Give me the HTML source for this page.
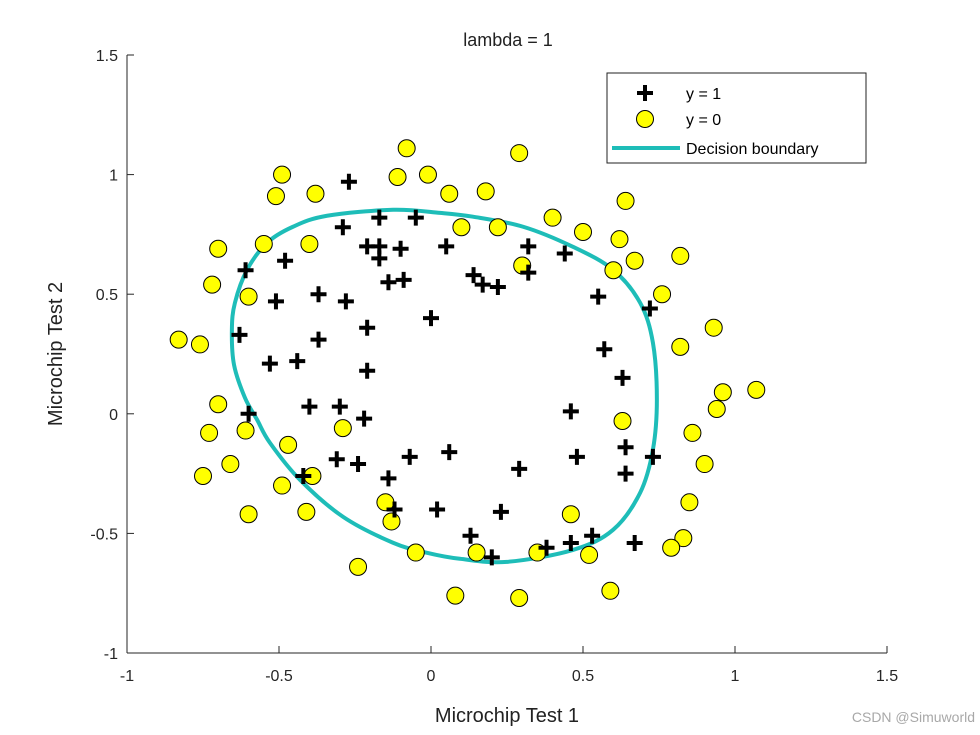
<!DOCTYPE html>
<html><head><meta charset="utf-8"><style>
html,body{margin:0;padding:0;background:#fff;}
svg{display:block;font-family:"Liberation Sans",Arial,sans-serif;}
</style></head><body>
<svg id="chart" width="980" height="735" viewBox="0 0 980 735" xmlns="http://www.w3.org/2000/svg">
<g id="axes"></g>
<g id="boundary"></g>
<g id="marks"></g>
<text x="508" y="46" text-anchor="middle" font-size="18" fill="#222">lambda = 1</text>
<text x="507" y="722" text-anchor="middle" font-size="20" fill="#222">Microchip Test 1</text>
<text transform="translate(62,354) rotate(-90)" text-anchor="middle" font-size="20" fill="#222">Microchip Test 2</text>
<g>
<rect x="607" y="73" width="259" height="90" fill="#fff" stroke="#222" stroke-width="1"/>
<g>
<path d="M645 85v16M637 93h16" stroke="#000" stroke-width="4"/>
<text x="686" y="99" font-size="16" fill="#000">y = 1</text></g>
<g>
<circle cx="645" cy="119" r="8.5" fill="#ffff00" stroke="#000" stroke-width="1"/>
<text x="686" y="125" font-size="16" fill="#000">y = 0</text></g>
<g>
<line x1="612" y1="148" x2="680" y2="148" stroke="#1ebdb8" stroke-width="4"/>
<text x="686" y="154" font-size="16" fill="#000">Decision boundary</text></g>
</g>
<text x="975" y="722" text-anchor="end" font-size="14" fill="#a8a8a8">CSDN @Simuworld</text>
</svg>
<script>
const xTicks=[-1,-0.5,0,0.5,1,1.5];
const yTicks=[-1,-0.5,0,0.5,1,1.5];
const xTickLabels=["-1","-0.5","0","0.5","1","1.5"];
const yTickLabels=["-1","-0.5","0","0.5","1","1.5"];
const posX=[-0.27,-0.17,-0.29,-0.05,-0.21,-0.17,-0.17,-0.10,0.05,-0.61,-0.48,-0.14,-0.09,0.14,0.17,0.22,0.32,0.32,0.44,0.55,-0.51,-0.37,-0.28,0.00,0.72,-0.63,-0.21,-0.37,0.57,-0.53,-0.44,-0.21,0.63,-0.60,-0.40,-0.30,-0.22,0.46,-0.31,-0.24,-0.14,-0.07,0.06,-0.42,-0.12,0.29,0.48,0.64,0.64,0.73,0.23,0.02,0.13,0.20,0.38,0.46,0.53,0.67];
const posY=[0.97,0.82,0.78,0.82,0.70,0.70,0.65,0.69,0.70,0.60,0.64,0.55,0.56,0.58,0.54,0.53,0.70,0.59,0.67,0.49,0.47,0.50,0.47,0.40,0.44,0.33,0.36,0.31,0.27,0.21,0.22,0.18,0.15,0.00,0.03,0.03,-0.02,0.01,-0.19,-0.21,-0.27,-0.18,-0.16,-0.26,-0.40,-0.23,-0.18,-0.14,-0.25,-0.18,-0.41,-0.40,-0.51,-0.60,-0.56,-0.54,-0.51,-0.54];
const negX=[-0.08,-0.49,-0.51,-0.38,-0.11,-0.01,0.06,-0.70,-0.55,-0.40,-0.72,-0.60,-0.83,-0.76,-0.70,0.29,0.18,0.10,0.22,0.40,0.64,0.50,0.62,0.30,0.60,0.67,0.82,0.76,0.93,0.82,1.07,0.96,0.94,0.63,-0.73,-0.61,-0.47,-0.29,-0.66,-0.75,-0.49,-0.39,-0.60,-0.41,-0.15,-0.13,-0.05,-0.24,0.86,0.90,0.85,0.83,0.79,0.46,0.15,0.35,0.52,0.08,0.29,0.59];
const negY=[1.11,1.00,0.91,0.92,0.99,1.00,0.92,0.69,0.71,0.71,0.54,0.49,0.31,0.29,0.04,1.09,0.93,0.78,0.78,0.82,0.89,0.76,0.73,0.62,0.60,0.64,0.66,0.50,0.36,0.28,0.10,0.09,0.02,-0.03,-0.08,-0.07,-0.13,-0.06,-0.21,-0.26,-0.30,-0.26,-0.42,-0.41,-0.37,-0.45,-0.58,-0.64,-0.08,-0.21,-0.37,-0.52,-0.56,-0.42,-0.58,-0.58,-0.59,-0.76,-0.77,-0.74];
const bndX=[-0.125,0.030,0.138,0.303,0.467,0.599,0.688,0.730,0.743,0.730,0.688,0.599,0.467,0.250,0.095,-0.013,-0.125,-0.289,-0.431,-0.530,-0.572,-0.612,-0.648,-0.655,-0.645,-0.605,-0.539,-0.454,-0.342];
const bndY=[0.853,0.840,0.824,0.782,0.698,0.602,0.464,0.297,0.059,-0.150,-0.330,-0.485,-0.569,-0.619,-0.606,-0.581,-0.539,-0.431,-0.276,-0.121,-0.025,0.067,0.205,0.351,0.464,0.602,0.715,0.782,0.828];

const NS="http://www.w3.org/2000/svg";
const L=127,R=887,T=55,B=653,XMIN=-1,XMAX=1.5,YMIN=-1,YMAX=1.5;
function sx(v){return L+(v-XMIN)/(XMAX-XMIN)*(R-L);}
function sy(v){return B-(v-YMIN)/(YMAX-YMIN)*(B-T);}
function mk(tag,attrs,parent){const e=document.createElementNS(NS,tag);for(const k in attrs)e.setAttribute(k,attrs[k]);parent.appendChild(e);return e;}
const axes=document.getElementById('axes');
let e=mk('line',{x1:L,y1:T,x2:L,y2:B,stroke:'#262626','stroke-width':1},axes);


e=mk('line',{x1:L,y1:B,x2:R,y2:B,stroke:'#262626','stroke-width':1},axes);


xTicks.forEach((t,i)=>{
  const x=sx(t);
  const tk=mk('line',{x1:x,y1:B,x2:x,y2:B-7,stroke:'#262626','stroke-width':1},axes);
  
  
  const lb=mk('text',{x:x,y:B+28,'text-anchor':'middle','font-size':16,fill:'#262626'},axes);
  lb.textContent=xTickLabels[i];
  
  
});
yTicks.forEach((t,i)=>{
  const y=sy(t);
  const tk=mk('line',{x1:L,y1:y,x2:L+7,y2:y,stroke:'#262626','stroke-width':1},axes);
  
  
  const lb=mk('text',{x:L-9,y:y+6,'text-anchor':'end','font-size':16,fill:'#262626'},axes);
  lb.textContent=yTickLabels[i];
  
  
});
const pts=bndX.map((v,i)=>[sx(v),sy(bndY[i])]);
const n=pts.length;
let d='M'+pts[0][0]+' '+pts[0][1];
for(let i=0;i<n;i++){
  const p0=pts[(i-1+n)%n],p1=pts[i],p2=pts[(i+1)%n],p3=pts[(i+2)%n];
  const c1=[p1[0]+(p2[0]-p0[0])/6,p1[1]+(p2[1]-p0[1])/6];
  const c2=[p2[0]-(p3[0]-p1[0])/6,p2[1]-(p3[1]-p1[1])/6];
  d+=' C'+c1[0]+' '+c1[1]+' '+c2[0]+' '+c2[1]+' '+p2[0]+' '+p2[1];
}
const bp=mk('path',{d:d+'Z',fill:'none',stroke:'#1ebdb8','stroke-width':4},document.getElementById('boundary'));


const marks=document.getElementById('marks');
negX.forEach((v,i)=>{
  const c=mk('circle',{cx:sx(v),cy:sy(negY[i]),r:8.5,fill:'#ffff00',stroke:'#000','stroke-width':1},marks);
  
  
});
posX.forEach((v,i)=>{
  const x=sx(v),y=sy(posY[i]);
  const p=mk('path',{d:'M'+x+' '+(y-8)+'v16M'+(x-8)+' '+y+'h16',stroke:'#000','stroke-width':4},marks);
  
  
});
</script>
</body></html>
